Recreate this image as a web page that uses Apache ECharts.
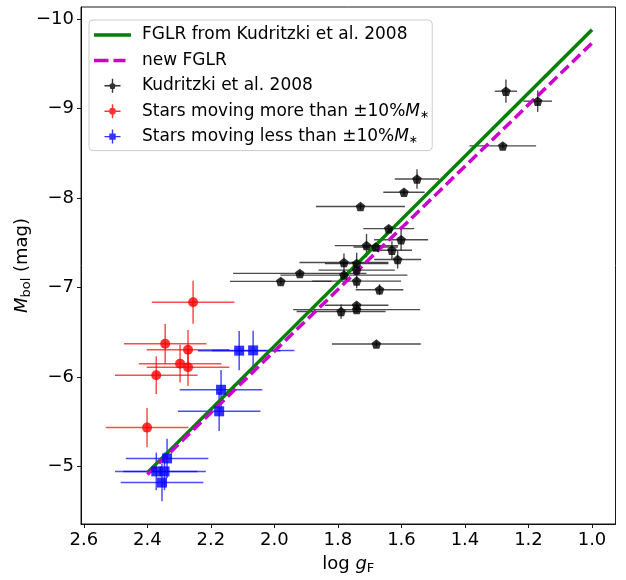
<!DOCTYPE html>
<html>
<head>
<meta charset="utf-8">
<script src="https://cdn.jsdelivr.net/npm/echarts@6/dist/echarts.min.js"></script>
<style>html,body{margin:0;padding:0;background:#fff;}#c{width:626px;height:580px;}</style>
</head>
<body>
<div id="c"></div>
<script>
// ---- data ----
const xTicks = [2.6, 2.4, 2.2, 2.0, 1.8, 1.6, 1.4, 1.2, 1.0];
const yTicks = [-10, -9, -8, -7, -6, -5];

// FGLR lines: endpoints [logg, Mbol]
const fglrX = [2.4, 1.0];
const fglrOld = [-4.93, -9.88];
const fglrNew = [-4.91, -9.73];

// Kudritzki et al. 2008: [logg, Mbol, err_logg, err_Mbol]
const kudX = [1.551, 1.592, 1.729, 1.640, 1.601, 1.710, 1.681, 1.630, 1.612, 1.781, 1.741, 1.741, 1.781, 1.920, 1.980, 1.741, 1.669, 1.741, 1.741, 1.790, 1.679, 1.271, 1.171, 1.281];
const kudY = [-8.211, -8.063, -7.903, -7.656, -7.533, -7.467, -7.452, -7.415, -7.311, -7.278, -7.267, -7.193, -7.137, -7.156, -7.067, -7.070, -6.974, -6.800, -6.752, -6.730, -6.367, -9.192, -9.081, -8.581];
const kudXe = [0.07, 0.065, 0.14, 0.08, 0.085, 0.10, 0.07, 0.063, 0.074, 0.14, 0.10, 0.12, 0.20, 0.21, 0.16, 0.14, 0.075, 0.10, 0.20, 0.14, 0.14, 0.035, 0.045, 0.105];
const kudYe = [0.11, 0.03, 0.03, 0.03, 0.12, 0.13, 0.03, 0.10, 0.10, 0.10, 0.12, 0.05, 0.05, 0.03, 0.03, 0.08, 0.06, 0.03, 0.03, 0.08, 0.03, 0.13, 0.12, 0.03];

// Stars moving more than 10% M*
const moreX = [2.256, 2.344, 2.272, 2.297, 2.272, 2.372, 2.401];
const moreY = [-6.833, -6.370, -6.303, -6.148, -6.107, -6.019, -5.433];
const moreXe = [0.13, 0.13, 0.13, 0.13, 0.13, 0.13, 0.13];
const moreYe = [0.24, 0.22, 0.22, 0.21, 0.21, 0.21, 0.22];

// Stars moving less than 10% M*
const lessX = [2.111, 2.067, 2.168, 2.174, 2.338, 2.372, 2.346, 2.354];
const lessY = [-6.293, -6.296, -5.856, -5.615, -5.089, -4.944, -4.944, -4.819];
const lessXe = [0.13, 0.13, 0.13, 0.13, 0.13, 0.13, 0.13, 0.13];
const lessYe = [0.22, 0.22, 0.22, 0.22, 0.22, 0.21, 0.21, 0.21];

// ---- build ----
const zip4 = (a, b, c, d) => a.map((v, i) => [v, b[i], c[i], d[i]]);
const zip2 = (a, b) => a.map((v, i) => [v, b[i]]);

const FONT = 'DejaVu Sans';
const N1 = 'FGLR from Kudritzki et al. 2008';
const N2 = 'new FGLR';
const N3 = 'Kudritzki et al. 2008';
const N4 = 'Stars moving more than ±10%M*';
const N5 = 'Stars moving less than ±10%M*';

function errRender(color, width) {
  return function (params, api) {
    const x = api.value(0), y = api.value(1), ex = api.value(2), ey = api.value(3);
    const a = api.coord([x - ex, y]), b = api.coord([x + ex, y]);
    const c = api.coord([x, y - ey]), d = api.coord([x, y + ey]);
    return {
      type: 'group',
      children: [
        { type: 'line', shape: { x1: a[0], y1: a[1], x2: b[0], y2: b[1] }, style: { stroke: color, lineWidth: width } },
        { type: 'line', shape: { x1: c[0], y1: c[1], x2: d[0], y2: d[1] }, style: { stroke: color, lineWidth: width } }
      ]
    };
  };
}

const pent = 'path://M0,-1 L0.951,-0.309 L0.588,0.809 L-0.588,0.809 L-0.951,-0.309 Z';
const crossBase = 'M0,6.3 h16 v1.4 h-16 Z M7.3,0 h1.4 v14 h-1.4 Z ';
const iconBlack = 'path://' + crossBase + 'M8,3.6 L11.4,6.1 L10.1,10.1 L5.9,10.1 L4.6,6.1 Z';
const iconRed = 'path://' + crossBase + 'M4.6,7 a3.4,3.4 0 1,1 6.8,0 a3.4,3.4 0 1,1 -6.8,0 Z';
const iconBlue = 'path://' + crossBase + 'M4.8,3.8 h6.4 v6.4 h-6.4 Z';
const iconGreen = 'path://M0,0 h37 v3.5 h-37 Z';
const iconDash = 'path://M0,0 h14.5 v3.5 h-14.5 Z M19.5,0 h12 v3.5 h-12 Z M36.98,1.74 h0.02 v0.02 h-0.02 Z';

const chart = echarts.init(document.getElementById('c'), null, { renderer: 'canvas' });
chart.setOption({
  animation: false,
  backgroundColor: '#fff',
  textStyle: { fontFamily: FONT },
  grid: { left: 81, right: 10.5, top: 7, bottom: 53, show: true, borderColor: '#000', borderWidth: 0.9, backgroundColor: 'transparent' },
  legend: {
    orient: 'vertical',
    left: 89, top: 20,
    padding: [5, 3, 4, 5],
    itemWidth: 37, itemHeight: 14, itemGap: 5.4,
    backgroundColor: 'rgba(255,255,255,0.85)',
    borderColor: '#cccccc', borderWidth: 1, borderRadius: 4,
    data: [
      { name: N1, icon: iconGreen },
      { name: N2, icon: iconDash },
      { name: N3, icon: iconBlack },
      { name: N4, icon: iconRed },
      { name: N5, icon: iconBlue }
    ],
    formatter: function (name) {
      if (name === N4) return '{t|Stars moving more than ±10%}{m|M}{s|∗}';
      if (name === N5) return '{t|Stars moving less than ±10%}{m|M}{s|∗}';
      return '{t|' + name + '}';
    },
    textStyle: {
      fontFamily: FONT, fontSize: 17, color: '#000', lineHeight: 20,
      rich: {
        t: { fontFamily: FONT, fontSize: 17, color: '#000', lineHeight: 20, padding: [0, 0, 0, 6] },
        m: { fontFamily: FONT, fontSize: 17, color: '#000', fontStyle: 'italic', lineHeight: 20 },
        s: { fontFamily: FONT, fontSize: 11, color: '#000', lineHeight: 10, padding: [8, 0, 0, 0] }
      }
    }
  },
  xAxis: {
    type: 'value', inverse: true, min: 0.926, max: 2.609,
    name: '{n|log }{g|g}{s|F}', nameLocation: 'middle', nameGap: 30, nameMoveOverlap: false,
    nameTextStyle: {
      rich: {
        n: { fontFamily: FONT, fontSize: 18, color: '#000' },
        g: { fontFamily: FONT, fontSize: 18, color: '#000', fontStyle: 'italic' },
        s: { fontFamily: FONT, fontSize: 13, color: '#000', verticalAlign: 'bottom', padding: [8, 0, 0, 0] }
      }
    },
    axisLine: { show: true, onZero: false, lineStyle: { color: '#000', width: 0.9 } },
    axisTick: { show: true, customValues: xTicks, length: 4, lineStyle: { color: '#000', width: 0.9 } },
    axisLabel: { customValues: xTicks, formatter: v => v.toFixed(1), fontSize: 18, color: '#000', margin: 7, fontFamily: FONT },
    splitLine: { show: false }
  },
  yAxis: {
    type: 'value', inverse: true, min: -10.133, max: -4.356,
    name: '{m|M}{s|bol}{t| (mag)}', nameLocation: 'middle', nameGap: 48, nameRotate: 90, nameMoveOverlap: false,
    nameTextStyle: {
      rich: {
        m: { fontFamily: FONT, fontSize: 18, color: '#000', fontStyle: 'italic' },
        s: { fontFamily: FONT, fontSize: 13, color: '#000', verticalAlign: 'bottom', padding: [8, 0, 0, 0] },
        t: { fontFamily: FONT, fontSize: 18, color: '#000' }
      }
    },
    axisLine: { show: true, onZero: false, lineStyle: { color: '#000', width: 0.9 } },
    axisTick: { show: true, customValues: yTicks, length: 4, lineStyle: { color: '#000', width: 0.9 } },
    axisLabel: { customValues: yTicks, formatter: v => (v < 0 ? '\u2212' : '') + Math.abs(v), fontSize: 18, color: '#000', margin: 7, fontFamily: FONT },
    splitLine: { show: false }
  },
  series: [
    { name: N1, type: 'line', data: zip2(fglrX, fglrOld), showSymbol: false, symbol: 'none', color: '#008000',
      lineStyle: { color: '#008000', width: 3.5 }, z: 3 },
    { name: N2, type: 'line', data: zip2(fglrX, fglrNew), showSymbol: false, symbol: 'none', color: '#cc00cc',
      lineStyle: { color: '#cc00cc', width: 3.5, type: [11, 5] }, z: 4 },
    { name: 'kudErr', type: 'custom', renderItem: errRender('rgba(30,30,30,0.8)', 1.4), data: zip4(kudX, kudY, kudXe, kudYe), encode: { x: 0, y: 1 }, clip: false, z: 2 },
    { name: N3, type: 'scatter', data: zip2(kudX, kudY), symbol: pent, symbolSize: 9.5, color: '#000', itemStyle: { color: '#000' }, z: 5 },
    { name: 'moreErr', type: 'custom', renderItem: errRender('rgba(255,0,0,0.7)', 1.5), data: zip4(moreX, moreY, moreXe, moreYe), encode: { x: 0, y: 1 }, clip: false, z: 2 },
    { name: N4, type: 'scatter', data: zip2(moreX, moreY), symbol: 'circle', symbolSize: 10, color: '#ff0000', itemStyle: { color: '#ff0000' }, z: 5 },
    { name: 'lessErr', type: 'custom', renderItem: errRender('rgba(0,0,255,0.7)', 1.5), data: zip4(lessX, lessY, lessXe, lessYe), encode: { x: 0, y: 1 }, clip: false, z: 2 },
    { name: N5, type: 'scatter', data: zip2(lessX, lessY), symbol: 'rect', symbolSize: 10, color: '#0000ff', itemStyle: { color: '#0000ff' }, z: 5 }
  ]
});
</script>
</body>
</html>
